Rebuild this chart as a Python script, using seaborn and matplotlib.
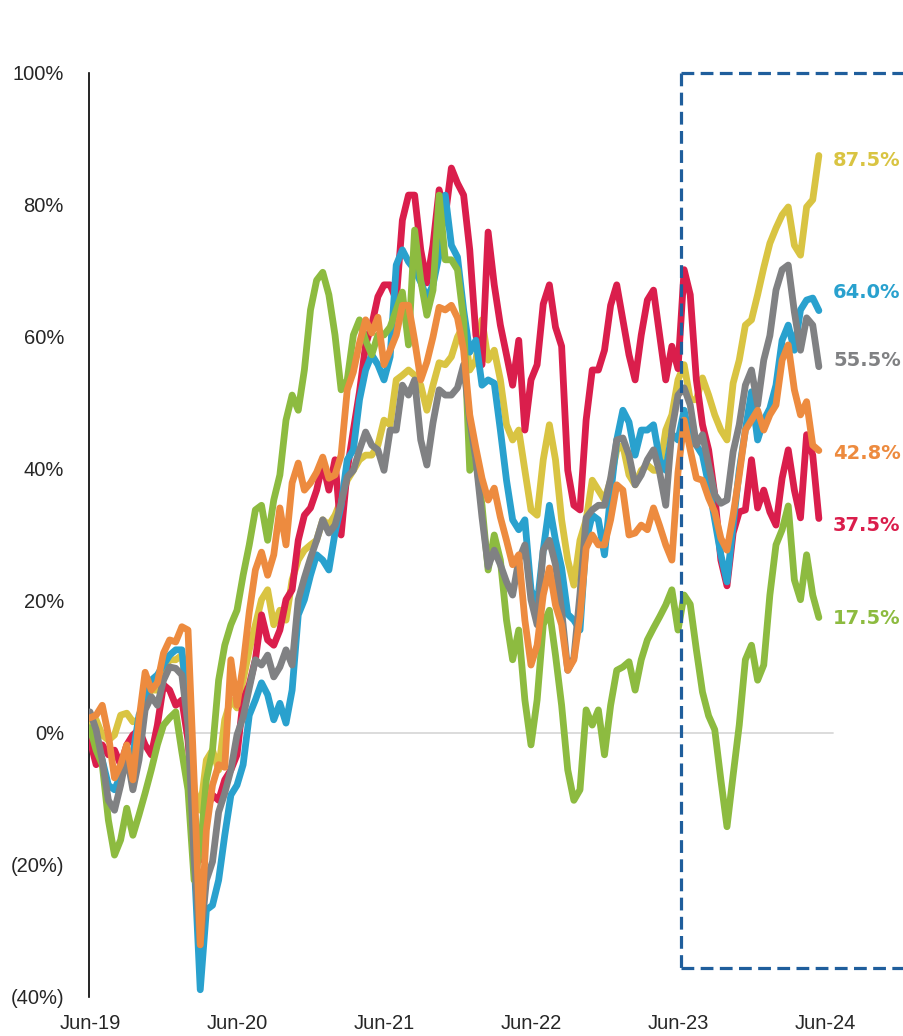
import numpy as np
import pandas as pd
import matplotlib
matplotlib.use("Agg")
import matplotlib.pyplot as plt
import seaborn as sns

# half-month steps since Jun-19 (months)
months = np.arange(120) * 0.5

gold = [1.2, 2.0, -0.3, -1.1, -0.3, 2.7, 3.0, 1.7, 2.0, 5.0,
        6.5, 6.5, 9.5, 11.1, 11.1, 11.8, 5.0, -8.6, -11.7, -4.1,
        -2.6, -5.6, 2.0, 5.0, 3.8, 8.0, 12.6, 16.4, 20.2, 21.7,
        16.4, 18.6, 17.1, 23.2, 26.2, 27.7, 28.5, 29.2, 32.3, 31.5,
        33.0, 35.3, 38.3, 39.8, 41.4, 42.1, 42.1, 43.6, 47.4, 46.7,
        53.5, 54.2, 55.0, 54.2, 52.7, 48.9, 52.7, 56.1, 55.8, 57.0,
        60.0, 61.8, 55.0, 56.5, 62.6, 56.5, 58.0, 53.5, 46.7, 44.4,
        45.9, 39.8, 33.8, 33.0, 41.4, 46.7, 41.4, 32.3, 26.2, 22.4,
        29.2, 32.3, 38.3, 36.8, 35.3, 38.3, 42.9, 43.6, 39.1, 37.6,
        39.8, 40.6, 39.8, 39.8, 45.9, 48.2, 53.5, 55.8, 50.5, 50.5,
        53.8, 51.2, 48.2, 45.9, 44.4, 53.0, 56.5, 61.8, 62.6, 66.4,
        70.5, 74.2, 76.5, 78.5, 79.7, 73.9, 72.4, 79.7, 80.8, 87.5]

blue = [0.5, -1.8, -4.1, -7.9, -8.6, -6.4, -3.3, -3.3, 2.7, 5.0,
        8.0, 8.8, 10.3, 11.8, 12.6, 12.6, 3.5, -19.2, -38.9, -26.8,
        -26.1, -22.3, -15.5, -9.4, -7.9, -4.8, 2.7, 5.0, 7.6, 5.8,
        2.0, 4.5, 1.5, 6.5, 17.9, 20.2, 23.9, 27.0, 26.2, 24.7,
        30.3, 34.5, 41.4, 42.9, 50.5, 55.0, 57.3, 55.8, 53.5, 57.0,
        70.9, 73.2, 71.4, 70.2, 68.3, 65.9, 67.9, 72.4, 81.5, 73.9,
        72.1, 64.1, 57.7, 59.5, 52.7, 53.5, 53.0, 45.9, 38.3, 32.3,
        30.8, 32.3, 21.7, 19.4, 27.7, 34.5, 29.2, 25.0, 18.0, 17.1,
        15.6, 29.2, 33.0, 32.3, 27.0, 36.1, 44.4, 48.9, 47.1, 42.1,
        45.9, 45.9, 46.7, 41.4, 39.8, 45.3, 44.4, 48.9, 44.4, 43.6,
        42.1, 37.6, 32.3, 27.0, 22.9, 31.5, 39.8, 45.9, 51.7, 44.4,
        47.4, 49.2, 52.7, 59.5, 61.8, 58.0, 64.1, 65.6, 65.9, 64.0]

gray = [3.2, 0.5, -4.1, -10.2, -11.7, -7.9, -3.3, -8.6, -4.1, 3.5,
        5.5, 4.2, 8.0, 10.0, 9.8, 8.8, 1.2, -19.2, -32.1, -22.3,
        -19.5, -12.0, -9.1, -5.6, -0.3, 2.4, 6.8, 11.1, 10.3, 11.8,
        8.5, 10.0, 12.6, 10.3, 20.2, 23.5, 26.5, 29.2, 32.3, 30.3,
        31.5, 34.8, 38.8, 39.8, 42.9, 45.6, 43.6, 42.9, 39.8, 45.9,
        45.9, 52.7, 51.2, 53.5, 44.4, 40.6, 47.0, 52.0, 51.2, 51.2,
        52.3, 55.8, 47.4, 41.4, 32.7, 25.2, 27.7, 25.5, 22.9, 20.9,
        26.2, 28.5, 20.2, 16.4, 27.7, 29.2, 25.5, 18.6, 9.5, 11.4,
        21.1, 32.6, 33.8, 34.5, 34.5, 38.6, 44.4, 44.7, 42.1, 37.6,
        39.1, 41.4, 42.9, 39.5, 34.5, 45.9, 51.2, 52.3, 49.7, 43.6,
        45.2, 40.6, 36.1, 34.8, 35.3, 42.6, 46.7, 52.7, 55.0, 49.7,
        56.5, 60.2, 67.1, 70.2, 70.9, 63.8, 58.0, 62.9, 61.8, 55.5]

orange = [2.3, 2.7, 4.2, -0.3, -6.8, -4.8, -1.8, -7.1, 2.0, 9.2,
          6.5, 7.6, 12.1, 14.1, 13.8, 16.1, 15.6, -7.1, -32.1, -14.7,
          -7.9, -4.8, -5.2, 11.1, 4.2, 10.3, 18.3, 24.7, 27.4, 23.9,
          27.0, 34.1, 28.5, 37.9, 40.9, 36.8, 37.9, 39.5, 41.8, 38.6,
          39.1, 42.1, 52.0, 54.7, 59.1, 62.6, 60.6, 63.0, 55.8, 58.0,
          60.3, 64.8, 64.8, 59.5, 53.5, 56.2, 60.0, 64.5, 64.1, 64.8,
          62.9, 58.0, 48.2, 43.2, 38.6, 35.3, 37.1, 32.7, 29.2, 25.5,
          27.0, 17.1, 10.3, 13.3, 20.9, 25.0, 19.4, 16.4, 9.5, 11.1,
          17.6, 28.0, 30.0, 28.5, 28.5, 32.3, 37.6, 36.8, 30.0, 30.3,
          31.5, 30.8, 34.1, 31.4, 28.5, 26.2, 39.5, 47.4, 42.9, 38.6,
          38.3, 35.6, 33.5, 29.5, 27.7, 33.0, 39.1, 45.9, 47.4, 48.9,
          45.9, 48.2, 49.7, 56.5, 58.8, 52.0, 48.2, 50.2, 43.6, 42.8]

red = [-1.1, -4.8, -1.8, -3.3, -2.6, -4.8, -1.8, -0.3, 0.5, -1.8,
       -3.3, 1.2, 7.3, 6.5, 4.2, 5.0, -1.1, -13.2, -19.2, -11.7,
       -9.4, -10.2, -7.1, -5.6, -3.3, 5.0, 7.3, 11.1, 17.9, 14.1,
       13.3, 15.6, 20.2, 21.7, 29.2, 33.0, 34.1, 36.8, 40.9, 36.8,
       41.4, 30.0, 39.8, 45.9, 51.7, 58.8, 61.8, 66.1, 67.9, 67.9,
       65.6, 77.7, 81.5, 81.5, 73.2, 68.2, 73.9, 82.3, 78.2, 85.6,
       83.3, 81.5, 73.2, 60.3, 55.8, 75.9, 67.9, 61.8, 57.3, 52.7,
       59.5, 45.9, 53.5, 55.8, 65.0, 67.9, 61.5, 58.6, 39.8, 34.5,
       33.8, 47.4, 55.0, 55.0, 58.0, 64.8, 67.9, 62.6, 57.3, 53.5,
       60.3, 65.6, 67.1, 60.3, 53.5, 58.6, 55.2, 70.2, 66.4, 53.5,
       46.7, 42.9, 36.1, 26.2, 22.3, 30.3, 33.5, 33.8, 41.4, 34.1,
       36.8, 33.5, 31.5, 38.6, 42.9, 36.8, 32.6, 45.2, 42.1, 32.5]

green = [0.8, -2.6, -4.8, -13.2, -18.5, -16.2, -11.4, -15.5, -12.4, -9.1,
         -5.6, -1.8, 1.2, 2.3, 3.2, -2.9, -8.6, -22.3, -17.7, -7.1,
         -2.6, 8.0, 13.3, 16.4, 18.6, 23.9, 28.5, 33.8, 34.5, 29.2,
         35.3, 39.1, 47.4, 51.2, 48.9, 55.0, 64.1, 68.6, 69.8, 66.4,
         60.3, 52.0, 53.5, 60.3, 62.6, 59.5, 57.3, 60.3, 60.3, 61.5,
         64.1, 66.8, 58.8, 76.2, 68.6, 63.3, 67.1, 81.5, 71.7, 71.7,
         70.2, 62.6, 39.8, 41.4, 34.5, 24.7, 30.0, 26.2, 17.1, 11.1,
         15.6, 5.0, -1.8, 5.0, 16.4, 18.6, 11.8, 4.2, -5.6, -10.2,
         -8.6, 3.5, 1.2, 3.5, -3.3, 4.2, 9.5, 10.0, 10.8, 6.5,
         11.1, 14.1, 15.9, 17.6, 19.4, 21.7, 15.6, 20.9, 19.5, 12.6,
         6.2, 2.6, 0.5, -7.1, -14.2, -6.4, 1.2, 11.1, 13.3, 8.0,
         10.3, 20.9, 28.5, 30.8, 34.4, 23.2, 20.2, 27.0, 20.9, 17.5]

series = {"gold": gold, "blue": blue, "gray": gray,
          "orange": orange, "red": red, "green": green}
colors = {"gold": "#D9C442", "blue": "#29A1CE", "gray": "#808183",
          "orange": "#ED8B3F", "red": "#DA1E4C", "green": "#8DBB40"}
draw_order = ["gold", "red", "blue", "green", "gray", "orange"]

end_names = ["gold", "blue", "gray", "orange", "red", "green"]
end_labels = ["87.5%", "64.0%", "55.5%", "42.8%", "37.5%", "17.5%"]
end_label_y = [86.8, 66.8, 56.5, 42.4, 31.5, 17.3]

xtick_pos = [0, 12, 24, 36, 48, 60]
xtick_labels = ["Jun-19", "Jun-20", "Jun-21", "Jun-22", "Jun-23", "Jun-24"]
ytick_pos = [-40, -20, 0, 20, 40, 60, 80, 100]
ytick_labels = ["(40%)", "(20%)", "0%", "20%", "40%", "60%", "80%", "100%"]

df = pd.concat([pd.DataFrame({"month": months, "value": v, "series": k})
                for k, v in series.items()], ignore_index=True)

sns.set_style("white")
plt.rcParams["font.family"] = ["Liberation Sans", "DejaVu Sans"]

fig = plt.figure(figsize=(9.04, 10.36), dpi=100)
ax = fig.add_axes([89 / 904, 39 / 1036, (904 - 89) / 904, 924 / 1036])

# zero line
ax.plot([0, 60.65], [0, 0], color="#D9D9D9", lw=1.3, zorder=1)

sns.lineplot(data=df, x="month", y="value", hue="series", hue_order=draw_order,
             palette=colors, linewidth=4.9, legend=False, ax=ax,
             estimator=None, sort=False, solid_joinstyle="round",
             solid_capstyle="round", zorder=3)

ax.set_xlim(-0.082, 66.45)
ax.set_ylim(-40, 100)

# dashed highlight box
bx, by = 48.24, -35.6
box_kw = dict(color="#1F5E9C", lw=2.3, dashes=(4, 2), clip_on=False, zorder=5)
ax.plot([bx, 70], [100, 100], **box_kw)
ax.plot([bx, bx], [100, by], **box_kw)
ax.plot([bx, 70], [by, by], **box_kw)

for name, lab, yy in zip(end_names, end_labels, end_label_y):
    ax.text(60.65, yy, lab, color=colors[name], fontsize=14, fontweight="bold",
            va="center", ha="left", family=["DejaVu Sans"])

for s in ["top", "right", "bottom"]:
    ax.spines[s].set_visible(False)
ax.spines["left"].set_color("black")
ax.spines["left"].set_linewidth(1.2)

ax.set_xticks(xtick_pos)
ax.set_xticklabels(xtick_labels, fontsize=14.5)
ax.set_yticks(ytick_pos)
ax.set_yticklabels(ytick_labels, fontsize=14.5)
ax.tick_params(axis="y", length=0, pad=18)
ax.tick_params(axis="x", length=0, pad=12)
ax.set_xlabel("")
ax.set_ylabel("")
ax.grid(False)

fig.savefig("out.png", dpi=100)
